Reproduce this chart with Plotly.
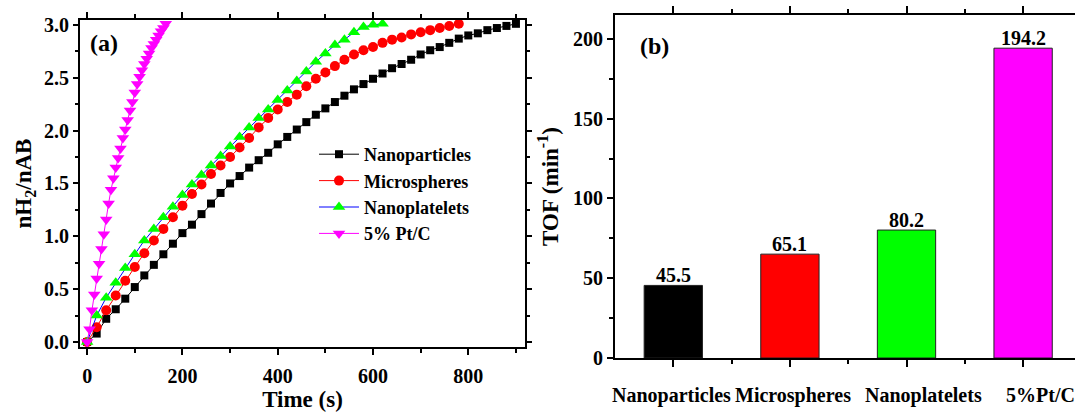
import plotly.graph_objects as go

# ---- (a) hydrogen evolution vs time ----
t_np = list(range(0, 901, 20))
v_np = [0.00, 0.08, 0.22, 0.31, 0.41, 0.52, 0.63, 0.73, 0.83, 0.93,
        1.03, 1.11, 1.21, 1.31, 1.41, 1.50, 1.57, 1.65, 1.72, 1.79,
        1.87, 1.94, 2.01, 2.08, 2.15, 2.21, 2.27, 2.33, 2.39, 2.44,
        2.49, 2.54, 2.59, 2.63, 2.67, 2.72, 2.76, 2.79, 2.83, 2.87,
        2.90, 2.92, 2.95, 2.97, 2.99, 3.01]

t_ms = list(range(0, 781, 20))
v_ms = [0.00, 0.14, 0.30, 0.44, 0.58, 0.71, 0.84, 0.96, 1.07, 1.18,
        1.29, 1.40, 1.49, 1.59, 1.67, 1.75, 1.84, 1.93, 2.03, 2.12,
        2.20, 2.27, 2.34, 2.42, 2.49, 2.55, 2.61, 2.67, 2.72, 2.76,
        2.79, 2.83, 2.86, 2.88, 2.91, 2.93, 2.95, 2.97, 2.99, 3.01]

t_pl = list(range(0, 621, 20))
v_pl = [0.00, 0.25, 0.42, 0.56, 0.70, 0.83, 0.96, 1.07, 1.18, 1.28,
        1.39, 1.49, 1.58, 1.67, 1.76, 1.85, 1.94, 2.03, 2.12, 2.20,
        2.29, 2.38, 2.47, 2.56, 2.65, 2.73, 2.81, 2.86, 2.93, 2.98,
        3.00, 3.01]

t_pt = list(range(0, 166, 5))
v_pt = [0.00, 0.12, 0.30, 0.45, 0.60, 0.74, 0.88, 1.02, 1.16, 1.31,
        1.44, 1.55, 1.65, 1.74, 1.83, 1.93, 2.01, 2.10, 2.19, 2.27,
        2.36, 2.44, 2.51, 2.57, 2.63, 2.68, 2.73, 2.78, 2.82, 2.86,
        2.90, 2.94, 2.97, 3.01]

# ---- (b) turnover frequency ----
catalysts = ["Nanoparticles", "Microspheres", "Nanoplatelets", "5%Pt/C"]
tof = [45.5, 65.1, 80.2, 194.2]

FONT = "Liberation Serif, Times New Roman, serif"
W, H = 1075, 412

fig = go.Figure()

series = [
    ("Nanoparticles", t_np, v_np, "black", "black", "square", 8),
    ("Microspheres", t_ms, v_ms, "red", "red", "circle", 10),
    ("Nanoplatelets", t_pl, v_pl, "blue", "#00ff00", "triangle-up", 11),
    ("5% Pt/C", t_pt, v_pt, "magenta", "magenta", "triangle-down", 11),
]
for name, tx, vy, lc, mc, sym, ms in series:
    fig.add_trace(go.Scatter(
        x=tx, y=vy, name=name, mode="lines+markers",
        line=dict(color=lc, width=1),
        marker=dict(color=mc, symbol=sym, size=ms, line=dict(width=0)),
        xaxis="x", yaxis="y", cliponaxis=True,
    ))

bar_colors = ["black", "red", "#00ff00", "magenta"]
fig.add_trace(go.Bar(
    x=[1, 2, 3, 4], y=tof, width=0.5,
    marker=dict(color=bar_colors, line=dict(color="#222222", width=1)),
    showlegend=False, xaxis="x2", yaxis="y2",
))

axis_common = dict(
    showline=True, linewidth=2, linecolor="black",
    ticks="outside", tickwidth=2, tickcolor="black",
    showgrid=False, zeroline=False, automargin=False,
    tickfont=dict(family=FONT, size=20, color="black", weight="bold"),
)

fig.update_layout(
    width=W, height=H,
    margin=dict(l=0, r=0, t=0, b=0, autoexpand=False),
    paper_bgcolor="white", plot_bgcolor="white",
    font=dict(family=FONT, color="black"),
    xaxis=dict(
        domain=[80 / W, 525 / W], anchor="y",
        range=[-15, 919], tickvals=[0, 200, 400, 600, 800],
        ticklen=6, mirror="ticks", ticklabelstandoff=4,
        minor=dict(dtick=100, tick0=0, ticks="outside", ticklen=4,
                   tickwidth=2, tickcolor="black", showgrid=False),
        title=dict(text="Time (s)", standoff=14,
                   font=dict(family=FONT, size=23, weight="bold")),
        **axis_common,
    ),
    yaxis=dict(
        domain=[(H - 347) / H, (H - 20) / H], anchor="x",
        range=[-0.047, 3.046], tickvals=[0, 0.5, 1.0, 1.5, 2.0, 2.5, 3.0],
        tickformat=".1f", ticklen=5, mirror="ticks",
        minor=dict(dtick=0.25, tick0=0, ticks="outside", ticklen=3,
                   tickwidth=2, tickcolor="black", showgrid=False),
        title=dict(text="nH<sub>2</sub>/nAB", standoff=6,
                   font=dict(family=FONT, size=23, weight="bold")),
        **axis_common,
    ),
    xaxis2=dict(
        domain=[615 / W, 1.0], anchor="y2",
        range=[0.5, 0.5 + (W - 615) / 116.6],
        tickvals=[1, 2, 3, 4], showticklabels=False,
        ticklen=7, mirror="ticks",
        minor=dict(tickvals=[1.5, 2.5, 3.5], ticks="outside", ticklen=4,
                   tickwidth=2, tickcolor="black", showgrid=False),
        **axis_common,
    ),
    yaxis2=dict(
        domain=[(H - 358) / H, (H - 15) / H], anchor="x2",
        range=[0, 215], tickvals=[0, 50, 100, 150, 200],
        ticklen=6, mirror=False,
        minor=dict(dtick=25, tick0=0, ticks="outside", ticklen=4,
                   tickwidth=2, tickcolor="black", showgrid=False),
        title=dict(text="TOF (min<sup>-1</sup>)", standoff=8,
                   font=dict(family=FONT, size=23, weight="bold")),
        **axis_common,
    ),
    legend=dict(
        x=314 / W, y=(H - 136) / H, xanchor="left", yanchor="top",
        bgcolor="rgba(0,0,0,0)", borderwidth=0,
        font=dict(family=FONT, size=18, color="black", weight="bold"),
        tracegroupgap=0, itemwidth=40,
    ),
)

# panel tags
fig.add_annotation(text="(a)", x=104 / W, y=(H - 43) / H, xref="paper", yref="paper",
                   xanchor="center", yanchor="middle", showarrow=False,
                   font=dict(family=FONT, size=24, weight="bold"))
fig.add_annotation(text="(b)", x=654 / W, y=(H - 46) / H, xref="paper", yref="paper",
                   xanchor="center", yanchor="middle", showarrow=False,
                   font=dict(family=FONT, size=24, weight="bold"))

# value labels sitting on the bar tops
for i, v in enumerate(tof):
    fig.add_annotation(text=f"{v:.1f}", x=i + 1, y=v, xref="x2", yref="y2",
                       xanchor="center", yanchor="bottom", yshift=-3, showarrow=False,
                       font=dict(family=FONT, size=20, weight="bold"))

# category labels under the bars
label_shift = [-2, 3, 17, 17]
for i, (name, dx) in enumerate(zip(catalysts, label_shift)):
    fig.add_annotation(text=name, x=i + 1, y=0, xref="x2", yref="y2",
                       xanchor="center", yanchor="middle", yshift=-37, xshift=dx,
                       showarrow=False,
                       font=dict(family=FONT, size=20, weight="bold"))

fig.write_html("out.html")
